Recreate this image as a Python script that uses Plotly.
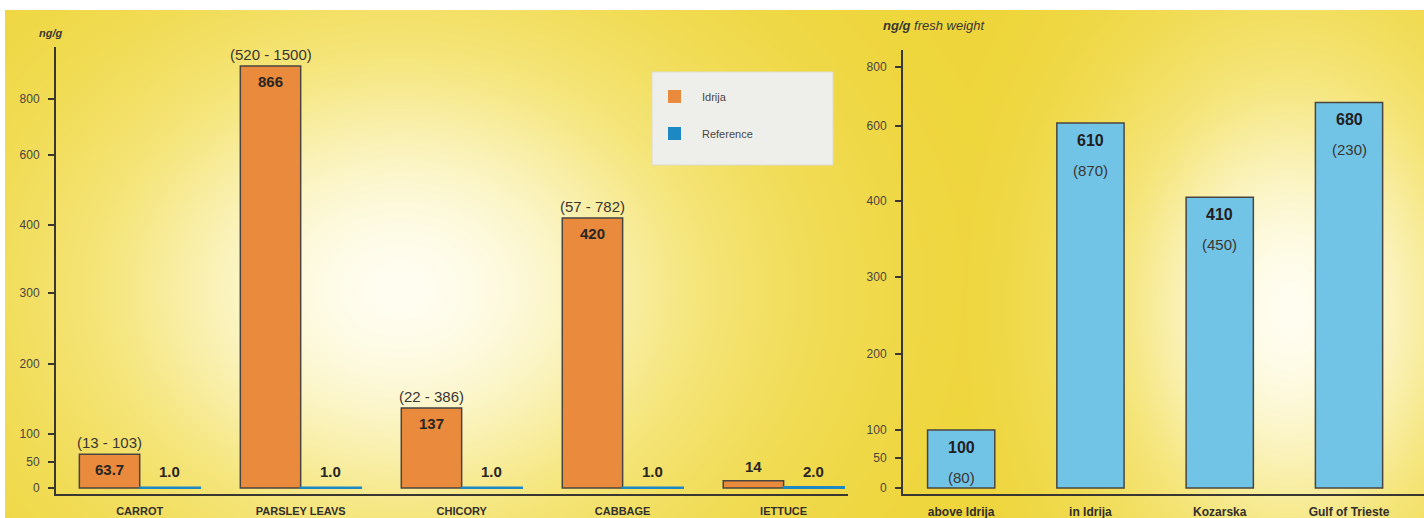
import numpy as np
import plotly.graph_objects as go

# --- data ---
crops = ["CARROT", "PARSLEY LEAVS", "CHICORY", "CABBAGE", "lETTUCE"]
idrija = [63.7, 866, 137, 420, 14]
idrija_range = ["(13 - 103)", "(520 - 1500)", "(22 - 386)", "(57 - 782)", ""]
reference = [1.0, 1.0, 1.0, 1.0, 2.0]

sites = ["above Idrija", "in Idrija", "Kozarska", "Gulf of Trieste"]
site_vals = [100, 610, 410, 680]
site_paren = [80, 870, 450, 230]

left_ticks = [0, 50, 100, 200, 300, 400, 600, 800]
right_ticks = [0, 50, 100, 200, 300, 400, 600, 800]

# the original axes are hand-drawn and not linear: piecewise scale (value -> screen units)
left_knots_v = [0, 50, 100, 200, 300, 400, 600, 800, 1000]
left_knots_p = [0, 26, 54, 124, 195, 263, 333, 389, 489]
right_knots_v = [0, 50, 100, 200, 300, 400, 600, 800]
right_knots_p = [0, 30, 58, 134, 211, 287, 362, 421]


def lscale(v):
    return np.interp(v, left_knots_v, left_knots_p)


def rscale(v):
    return np.interp(v, right_knots_v, right_knots_p)


W, H = 1424, 518
ORANGE = "#e98a3c"
BLUE_REF = "#1e88c4"
SKY = "#72c4e6"
EDGE = "#4a4540"
AXIS = "#3a3632"
FONT = "Liberation Sans, Arial, sans-serif"

fig = go.Figure()

# background: yellow with soft white glows
gx = np.arange(7, W + 4, 4)
gy = np.arange(12, H + 4, 4)
X, Y = np.meshgrid(gx, gy)
g1 = np.exp(-(((X - 400) / 330) ** 2 + ((Y - 290) / 260) ** 2))
g2 = np.exp(-(((X - 1290) / 190) ** 2 + ((Y - 310) / 260) ** 2))
z = np.maximum(g1, g2)
fig.add_trace(go.Heatmap(
    x=gx, y=gy, z=z, xaxis="x", yaxis="y", zsmooth="best", showscale=False,
    hoverinfo="skip",
    colorscale=[[0, "#eed53a"], [0.45, "#f5e67e"], [0.8, "#fbf5c8"], [1, "#fffdf0"]],
))

# left panel bars
fig.add_trace(go.Bar(
    x=crops, y=lscale(idrija), xaxis="x2", yaxis="y2", name="Idrija",
    marker=dict(color=ORANGE, line=dict(color=EDGE, width=1.5)),
    showlegend=False, hoverinfo="skip",
))
fig.add_trace(go.Bar(
    x=crops, y=lscale(reference), xaxis="x2", yaxis="y2", name="Reference",
    marker=dict(color=BLUE_REF, line=dict(color=BLUE_REF, width=2)),
    showlegend=False, hoverinfo="skip",
))
# legend swatches
fig.add_trace(go.Scatter(x=[None], y=[None], mode="markers", name="Idrija",
                         marker=dict(symbol="square", size=13, color=ORANGE),
                         legendgroup="a", xaxis="x2", yaxis="y2"))
fig.add_trace(go.Scatter(x=[None], y=[None], mode="markers", name="Reference",
                         marker=dict(symbol="square", size=13, color=BLUE_REF),
                         legendgroup="b", xaxis="x2", yaxis="y2"))

# right panel bars
fig.add_trace(go.Bar(
    x=sites, y=rscale(site_vals), xaxis="x3", yaxis="y3", width=0.52,
    marker=dict(color=SKY, line=dict(color=EDGE, width=1.5)),
    showlegend=False, hoverinfo="skip",
))

ann = []
for c, v, r, ref in zip(crops, idrija, idrija_range, reference):
    top = lscale(v)
    if top > 25:
        ann.append(dict(x=c, y=top, xref="x2", yref="y2", xshift=-30, yshift=-5,
                        yanchor="top", text=f"<b>{v:g}</b>", showarrow=False,
                        font=dict(size=15, color="#2a2622")))
    else:
        ann.append(dict(x=c, y=top, xref="x2", yref="y2", xshift=-30, yshift=4,
                        yanchor="bottom", text=f"<b>{v:g}</b>", showarrow=False,
                        font=dict(size=15, color="#2a2622")))
    if r:
        ann.append(dict(x=c, y=top, xref="x2", yref="y2", xshift=-30, yshift=1,
                        yanchor="bottom", text=r, showarrow=False,
                        font=dict(size=15, color="#3a3632")))
    ann.append(dict(x=c, y=lscale(ref), xref="x2", yref="y2", xshift=30, yshift=5,
                    yanchor="bottom", text=f"<b>{ref:.1f}</b>", showarrow=False,
                    font=dict(size=15, color="#2a2622")))

for s, v, p in zip(sites, site_vals, site_paren):
    top = rscale(v)
    ann.append(dict(x=s, y=top, xref="x3", yref="y3", yshift=-17, yanchor="middle",
                    text=f"<b>{v}</b>", showarrow=False,
                    font=dict(size=16, color="#22201e")))
    ann.append(dict(x=s, y=top, xref="x3", yref="y3", yshift=-47, yanchor="middle",
                    text=f"({p})", showarrow=False,
                    font=dict(size=15, color="#3a3632")))

ann.append(dict(x=37 / W, y=1 - 33 / H, xref="paper", yref="paper", xanchor="left",
                yanchor="middle", text="<b><i>ng/g</i></b>", showarrow=False,
                font=dict(size=11, color="#3a3632")))
ann.append(dict(x=881 / W, y=1 - 25 / H, xref="paper", yref="paper", xanchor="left",
                yanchor="middle", text="<b><i>ng/g</i></b><i> fresh weight</i>",
                showarrow=False, font=dict(size=13, color="#3a3632")))

axis_common = dict(showline=True, linecolor=AXIS, linewidth=2, showgrid=False,
                   zeroline=False, fixedrange=True)

fig.update_layout(
    width=W, height=H,
    margin=dict(l=0, r=0, t=0, b=0),
    paper_bgcolor="white",
    plot_bgcolor="rgba(0,0,0,0)",
    font=dict(family=FONT, color="#3a3632"),
    barmode="group", bargap=0.25, bargroupgap=0,
    xaxis=dict(domain=[0, 1], range=[0, W], visible=False, fixedrange=True),
    yaxis=dict(domain=[0, 1], range=[H, 0], visible=False, fixedrange=True),
    xaxis2=dict(domain=[56 / W, 848 / W], range=[-0.52, 4.4], anchor="y2",
                ticks="", ticklabelstandoff=6,
                tickfont=dict(size=11, weight="bold", color="#332f2b"), **axis_common),
    yaxis2=dict(domain=[24 / H, 471 / H], range=[-6, 441], anchor="x2",
                tickvals=lscale(left_ticks), ticktext=[str(t) for t in left_ticks],
                ticks="outside", ticklen=6, tickwidth=1.5, tickcolor=AXIS,
                ticklabelstandoff=6, tickfont=dict(size=12, color="#4a4540"),
                **axis_common),
    xaxis3=dict(domain=[903 / W, 1], range=[-0.45, 3.58], anchor="y3",
                ticks="", ticklabelstandoff=6,
                tickfont=dict(size=12, weight="bold", color="#332f2b"), **axis_common),
    yaxis3=dict(domain=[24 / H, 468 / H], range=[-6, 438], anchor="x3",
                tickvals=rscale(right_ticks), ticktext=[str(t) for t in right_ticks],
                ticks="outside", ticklen=6, tickwidth=1.5, tickcolor=AXIS,
                ticklabelstandoff=6, tickfont=dict(size=12, color="#4a4540"),
                **axis_common),
    legend=dict(x=647 / W, y=1 - 82 / H, xanchor="left", yanchor="top",
                bgcolor="rgba(0,0,0,0)", borderwidth=0, traceorder="grouped",
                tracegroupgap=18, font=dict(size=11, color="#4a4642"), itemwidth=45),
    shapes=[dict(type="rect", xref="paper", yref="paper",
                 x0=652 / W, x1=833 / W, y0=1 - 165 / H, y1=1 - 72 / H,
                 fillcolor="#eeeeea", line=dict(color="#dcdccc", width=1),
                 layer="above")],
    annotations=ann,
)

# the page body has a default 8px margin; drop it so the figure fills the window
fig.write_html("out.html", config={"displayModeBar": False},
               post_script="document.body.style.margin='0';")
